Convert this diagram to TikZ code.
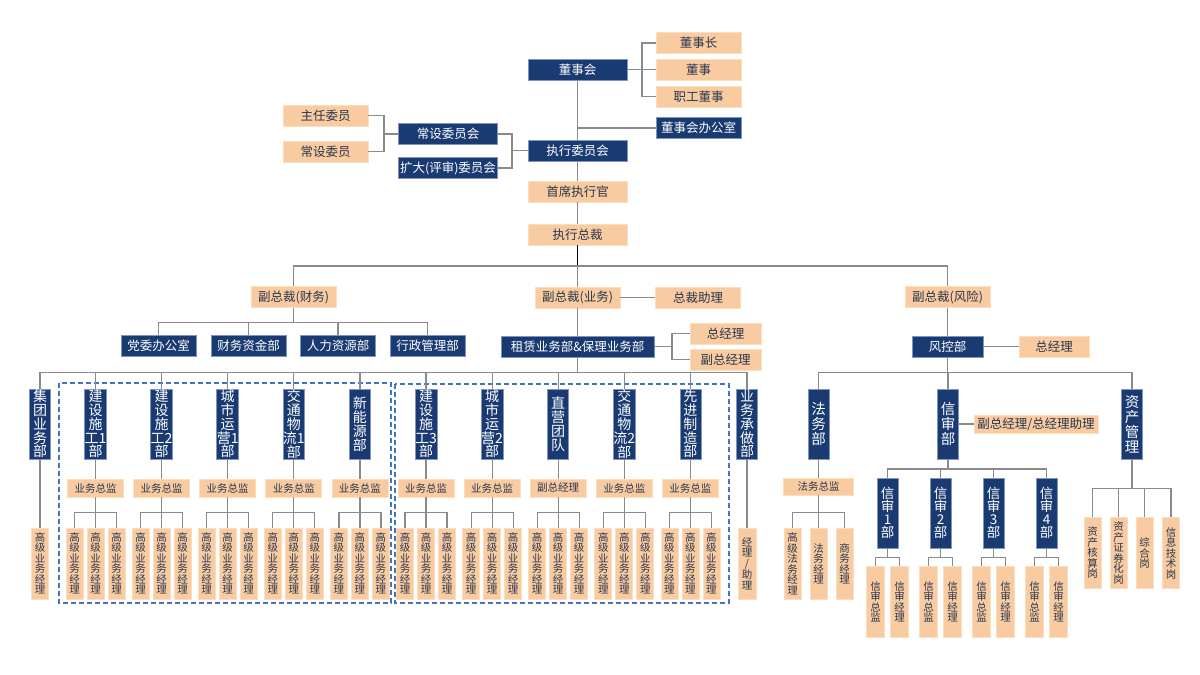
\documentclass[tikz,border=0pt]{standalone}
\usepackage{fontspec}
\setmainfont{Noto Sans CJK SC}
\usepackage{xcolor}
\usepackage{tikz}
\usetikzlibrary{positioning}
\usetikzlibrary{calc}

\definecolor{navy}{HTML}{193B72}
\definecolor{navyline}{HTML}{7F95BF}
\definecolor{peach}{HTML}{F8CBA0}
\definecolor{peachline}{HTML}{FBDDC0}
\definecolor{txtgray}{HTML}{2A3650}
\definecolor{linkgray}{HTML}{8A8A8A}
\definecolor{dashblue}{HTML}{4472C4}

\begin{document}
\begin{tikzpicture}
    [%%%%%%%%%%%%%%%%%%%%%%%%%%%%%%
        x=1pt, y=-1pt,
        dark/.style={rectangle,fill=navy,draw=navyline,line width=0.7pt,text=white,inner sep=0pt,font=\fontsize{12.5}{14}\selectfont},
        light/.style={rectangle,fill=peach,draw=peachline,line width=0.7pt,text=txtgray,inner sep=0pt,font=\fontsize{12.5}{14}\selectfont},
        boxwide/.style={minimum width=99pt,minimum height=21pt},
        boxmid/.style={minimum width=85pt,minimum height=21pt},
        boxtall/.style={minimum width=21pt,minimum height=70pt,align=center,font=\fontsize{14}{13.8}\selectfont},
        boxmgr/.style={minimum width=17pt,minimum height=71pt,align=center,font=\fontsize{10.5}{10.5}\selectfont},
        boxhead/.style={minimum width=56pt,minimum height=18pt,font=\fontsize{10.5}{12}\selectfont},
        link/.style={draw=linkgray,line width=1.2pt},
        dashbox/.style={draw=dashblue,line width=1.3pt,dash pattern=on 5pt off 3pt}
    ]%%%%%%%%%%%%%%%%%%%%%%%%%%%%%%
\fill[white] (0,0) rectangle (1200,675);
\useasboundingbox (0,0) rectangle (1200,675);

% board and committees
\node[dark,boxwide] (board) at (577.5,69.5) {董事会};
\node[light,boxmid] (chair) at (698.5,43) {董事长};
\node[light,boxmid] (director) at (698.5,69.5) {董事};
\node[light,boxmid] (staffdir) at (698.5,96.5) {职工董事};
\node[dark,boxmid] (boardoffice) at (698.5,128) {董事会办公室};
\node[dark,boxwide] (exec) at (577.5,150.5) {执行委员会};
\node[dark,boxwide] (standing) at (448,134) {常设委员会};
\node[dark,boxwide] (expanded) at (448,168) {扩大(评审)委员会};
\node[light,boxmid] (chief) at (325.5,115.5) {主任委员};
\node[light,boxmid] (member) at (325.5,151.5) {常设委员};
\node[light,boxwide] (ceo) at (577.5,191.5) {首席执行官};
\node[light,boxwide] (pres) at (577.5,234.5) {执行总裁};

\coordinate (bj) at (642,69.5);
\coordinate (cj) at (512,150.5);
\coordinate (hj) at (384,134);
\draw[link] (chair.west) -| (bj) |- (staffdir.west);
\draw[link] (board.east) -- (director.west);
\draw[link] (board.south) -- (exec.north);
\draw[link] (boardoffice.west) -- (boardoffice.west -| board.south);
\draw[link] (standing.east) -| (cj) |- (expanded.east);
\draw[link] (cj) -- (exec.west);
\draw[link] (chief.east) -| (hj) |- (member.east);
\draw[link] (hj) -- (standing.west);
\draw[link] (exec.south) -- (ceo.north);
\draw[link] (ceo.south) -- (pres.north);

% vice presidents
\node[light,boxmid] (vpfin) at (293.5,297) {副总裁(财务)};
\node[light,boxmid] (vpbiz) at (577.5,297.5) {副总裁(业务)};
\node[light,boxmid] (vprisk) at (947.5,297) {副总裁(风险)};
\node[light,boxmid] (assist) at (698,297.5) {总裁助理};
\coordinate (mainbus) at (577.5,266);
\draw[link,draw=black] (pres.south) -- (mainbus);
\draw[link] (vpfin.north) -- (vpfin.north |- mainbus) -- (vprisk.north |- mainbus) -- (vprisk.north);
\draw[link] (mainbus) -- (vpbiz.north);
\draw[link] (vpbiz.east) -- (assist.west);

% finance
\node[dark,minimum width=75pt,minimum height=21pt] (party) at (158.5,345.5) {党委办公室};
\node[dark,minimum width=75pt,minimum height=21pt] (fund) at (248.5,345.5) {财务资金部};
\node[dark,minimum width=75pt,minimum height=21pt] (hr) at (338,345.5) {人力资源部};
\node[dark,minimum width=75pt,minimum height=21pt] (admin) at (427.5,345.5) {行政管理部};
\foreach \n in {party,fund,hr,admin}{
    \draw[link] (vpfin.south) -- ++(0,14.7) -| (\n.north);
}

% business
\node[dark,minimum width=153pt,minimum height=21pt] (lease) at (577.5,346.5) {租赁业务部\&保理业务部};
\node[light,minimum width=71pt,minimum height=21pt] (gm) at (725.5,333.5) {总经理};
\node[light,minimum width=71pt,minimum height=21pt] (dgm) at (725.5,359.5) {副总经理};
\coordinate (lj) at (672,346.5);
\draw[link] (vpbiz.south) -- (lease.north);
\draw[link] (gm.west) -| (lj) |- (dgm.west);
\draw[link] (lease.east) -- (lj);

\draw[dashbox] (59,383) rectangle (391,603);
\draw[dashbox] (395,384) rectangle (729,603);

\node[dark,boxtall] (group) at (40,424) {集\\团\\业\\务\\部};
\node[light,boxmgr] (groupmgr) at (40,563.5) {高\\级\\业\\务\\经\\理};
\draw[link] (lease.south) -- ++(0,15) -| (group.north);
\draw[link] (group) -- (groupmgr);

\node[dark,boxtall] (bizdo) at (747,424) {业\\务\\承\\做\\部};
\node[light,boxmgr,minimum width=18pt] (bizdomgr) at (747,563.5) {经\\理\\/\\助\\理};
\draw[link] (lease.south) -- ++(0,15) -| (bizdo.north);
\draw[link] (bizdo) -- (bizdomgr);

\foreach \i/\x/\txt/\hd in {
    1/95.5/{建\\设\\施\\工1\\部}/业务总监,
    2/161.6/{建\\设\\施\\工2\\部}/业务总监,
    3/227.7/{城\\市\\运\\营1\\部}/业务总监,
    4/293.8/{交\\通\\物\\流1\\部}/业务总监,
    5/359.9/{新\\能\\源\\部}/业务总监,
    6/426.0/{建\\设\\施\\工3\\部}/业务总监,
    7/492.1/{城\\市\\运\\营2\\部}/业务总监,
    8/558.2/{直\\营\\团\\队}/副总经理,
    9/624.3/{交\\通\\物\\流2\\部}/业务总监,
    10/690.4/{先\\进\\制\\造\\部}/业务总监}{
    \node[dark,boxtall] (dept\i) at (\x,424) {\txt};
    \node[light,boxhead] (lead\i) at (\x,488) {\hd};
    \draw[link] (lease.south) -- ++(0,15) -| (dept\i.north);
    \draw[link] (dept\i) -- (lead\i);
    \foreach \j/\dx in {1/-21,2/0,3/21}{
        \node[light,boxmgr] (mgr\i-\j) at (\x+\dx,563.5) {高\\级\\业\\务\\经\\理};
        \draw[link] (lead\i.south) -- ++(0,15) -| (mgr\i-\j.north);
    }
}

% risk
\node[dark,minimum width=71pt,minimum height=21pt] (riskctl) at (947.5,346.5) {风控部};
\node[light,minimum width=70pt,minimum height=21pt] (riskgm) at (1054,346.5) {总经理};
\draw[link] (vprisk.south) -- (riskctl.north);
\draw[link] (riskctl.east) -- (riskgm.west);

\node[dark,boxtall,font=\fontsize{14.5}{15}\selectfont] (legal) at (818.5,424) {法\\务\\部};
\node[dark,boxtall,font=\fontsize{14.5}{15}\selectfont] (credit) at (948,424) {信\\审\\部};
\node[dark,boxtall,font=\fontsize{14.5}{15}\selectfont] (asset) at (1132,424) {资\\产\\管\\理};
\foreach \n in {legal,credit,asset}{
    \draw[link] (riskctl.south) -- ++(0,15.5) -| (\n.north);
}
\node[light,minimum width=124pt,minimum height=18pt] (creditaide) at (1036,424) {副总经理/总经理助理};
\draw[link] (credit.east) -- (creditaide.west);

\node[light,minimum width=70pt,minimum height=17pt,font=\fontsize{10.5}{12}\selectfont] (legallead) at (818.5,486.5) {法务总监};
\draw[link] (legal) -- (legallead);
\foreach \j/\x/\txt in {1/792.5/{高\\级\\法\\务\\经\\理},2/818.5/{法\\务\\经\\理},3/844.5/{商\\务\\经\\理}}{
    \node[light,boxmgr] (lawyer\j) at (\x,564) {\txt};
    \draw[link] (legallead.south) -- ++(0,17) -| (lawyer\j.north);
}

\foreach \i/\x in {1/887.5,2/940.5,3/993.5,4/1046.5}{
    \node[dark,boxtall,font=\fontsize{13.5}{13}\selectfont] (credit\i) at (\x,513) {信\\审\\\i\\部};
    \draw[link] (credit.south) -- ++(0,9.7) -| (credit\i.north);
    \node[light,boxmgr,minimum width=18pt] (audit\i-1) at (\x-12,602) {信\\审\\总\\监};
    \node[light,boxmgr,minimum width=18pt] (audit\i-2) at (\x+12,602) {信\\审\\经\\理};
    \draw[link] (credit\i.south) -- ++(0,9) -| (audit\i-1.north);
    \draw[link] (credit\i.south) -- ++(0,9) -| (audit\i-2.north);
}

\foreach \j/\x/\txt in {1/1092.5/{资\\产\\核\\算\\岗},2/1118.5/{资\\产\\证\\券\\化\\岗},3/1144.5/{综\\合\\岗},4/1171/{信\\息\\技\\术\\岗}}{
    \node[light,boxmgr] (post\j) at (\x,553) {\txt};
    \draw[link] (asset.south) -- ++(0,29) -| (post\j.north);
}

\end{tikzpicture}
\end{document}
